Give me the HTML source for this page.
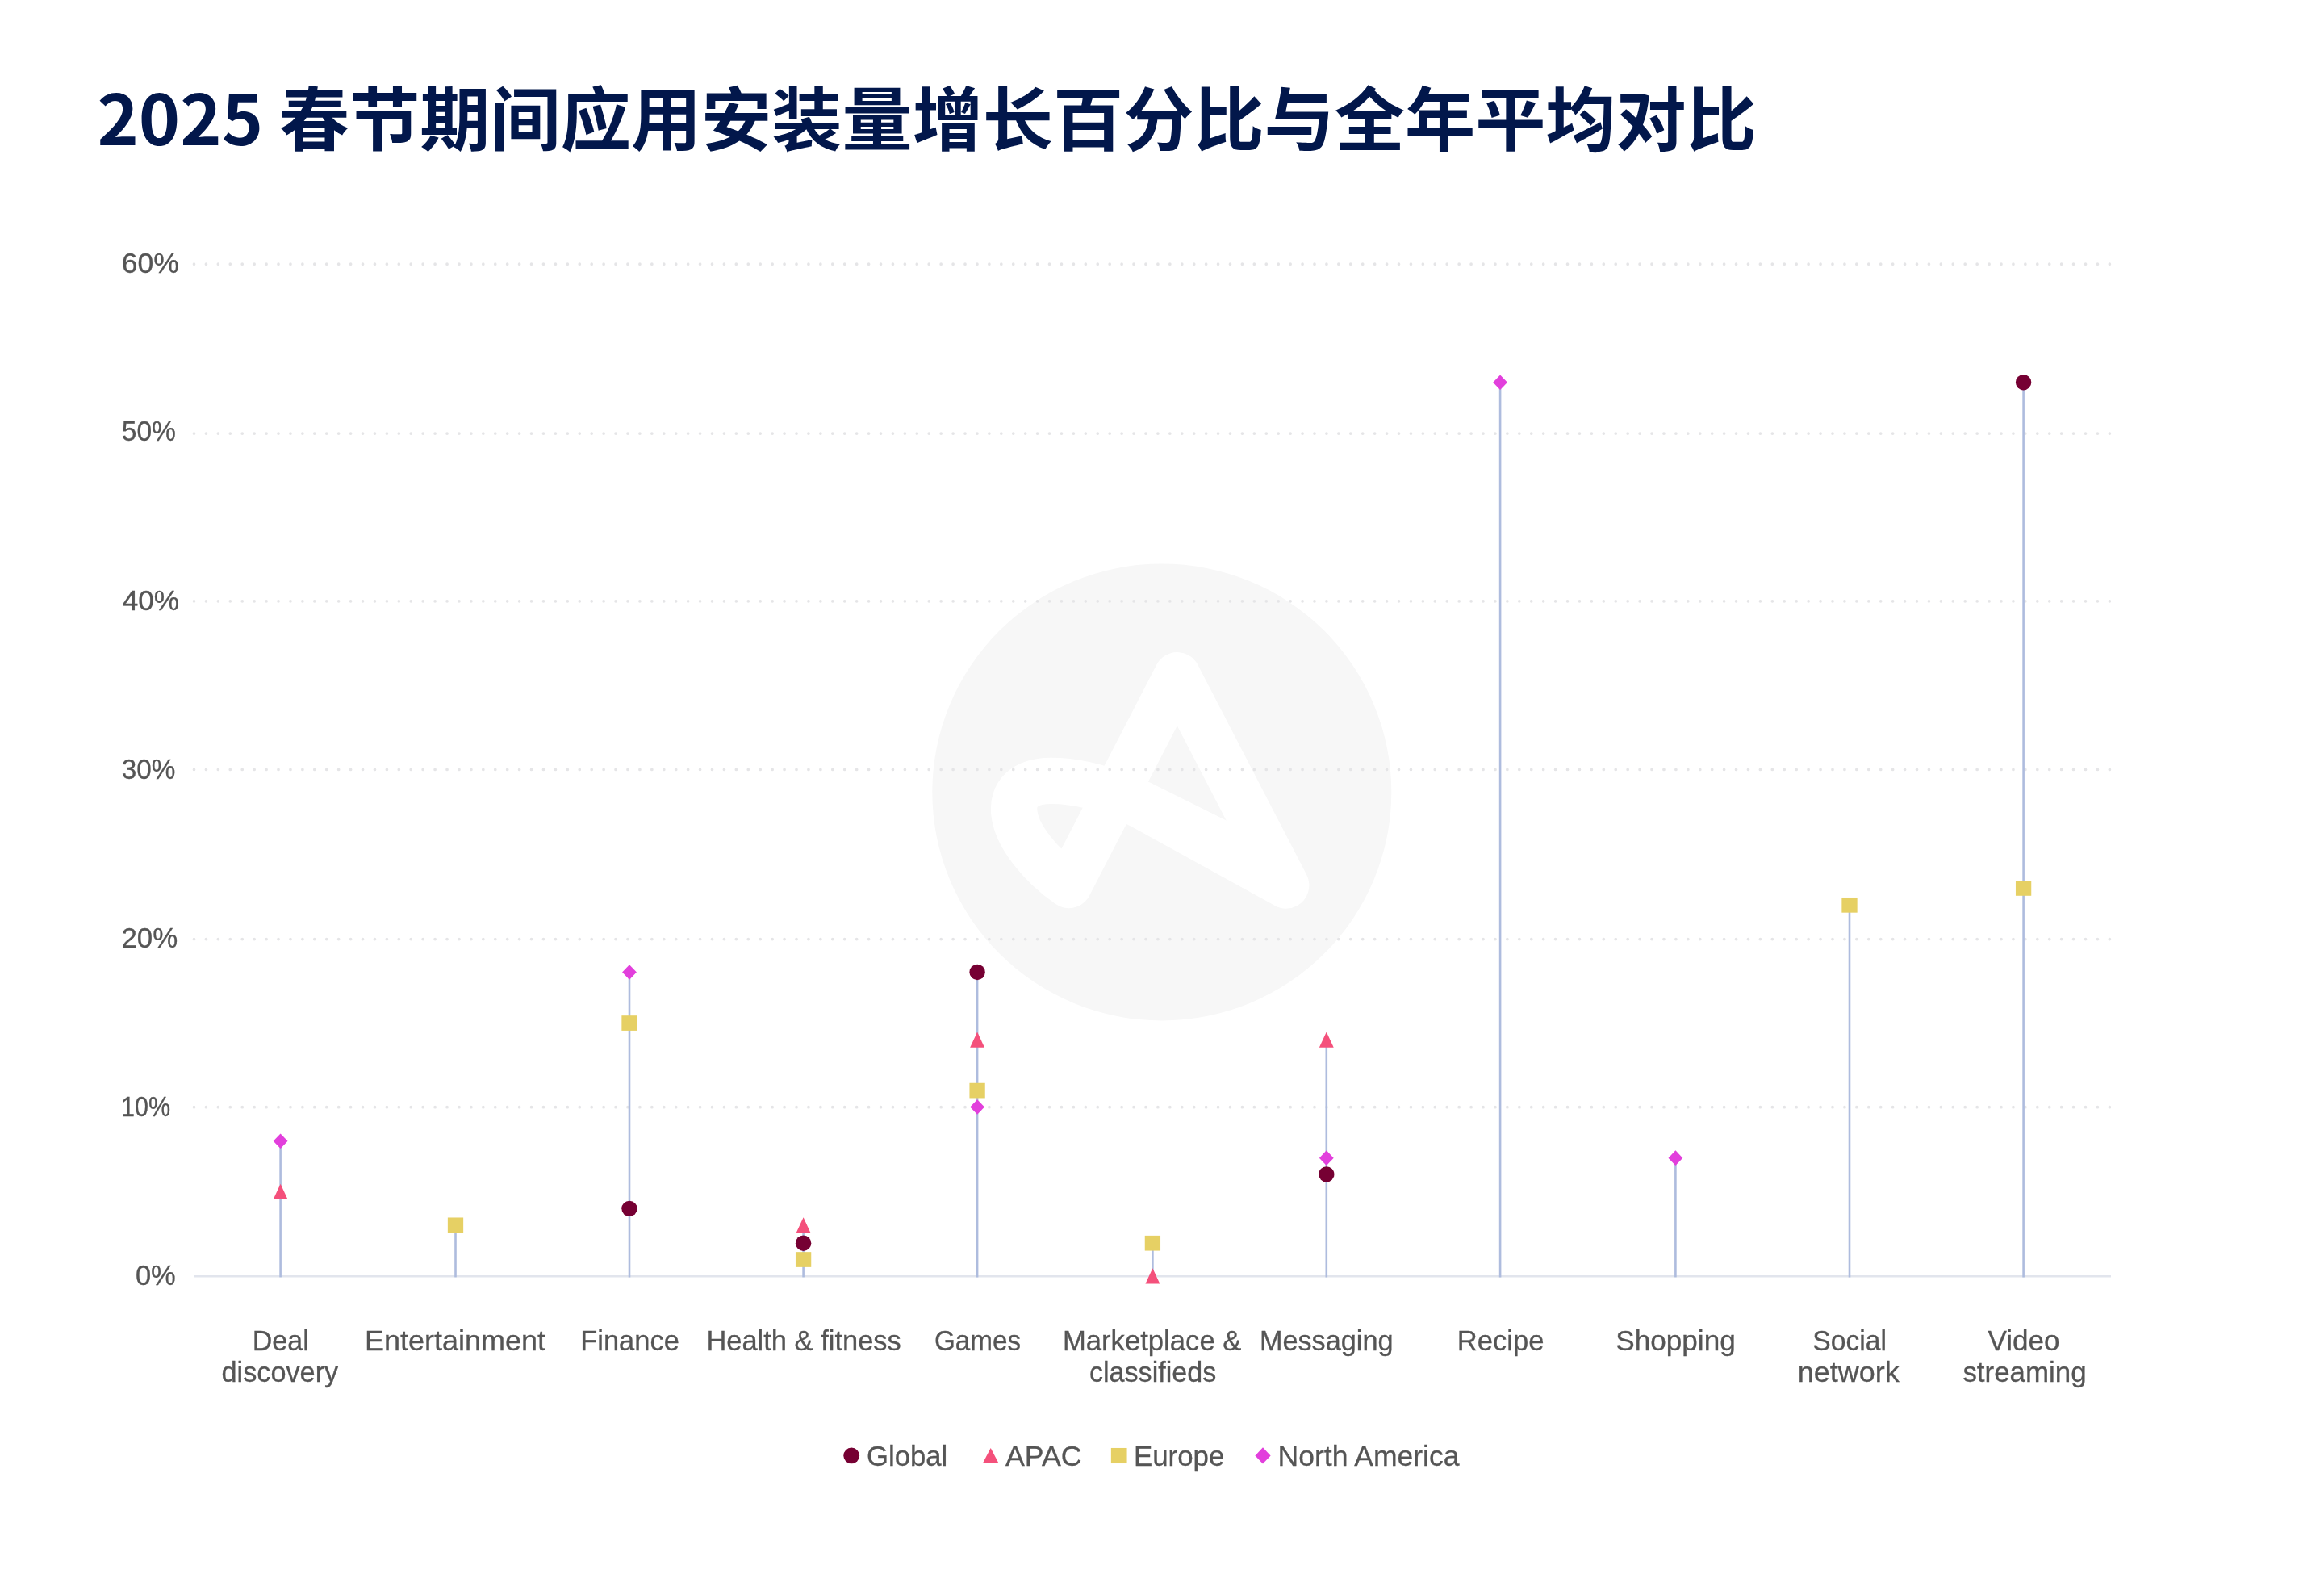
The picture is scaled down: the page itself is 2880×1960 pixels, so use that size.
<!DOCTYPE html>
<html lang="zh-CN">
<head>
<meta charset="utf-8">
<title>2025 春节期间应用安装量增长百分比与全年平均对比</title>
<style>
html,body{margin:0;padding:0;background:#ffffff;}
body{width:2880px;height:1960px;overflow:hidden;position:relative;}
h1{position:absolute;left:120.4px;top:79.15px;margin:0;white-space:nowrap;
   font-family:"Noto Sans CJK SC","Liberation Sans",sans-serif;font-weight:700;font-size:87.2px;line-height:128px;
   color:#02174b;transform-origin:0 0;transform:scale(1,0.987);}
svg{position:absolute;left:0;top:0;will-change:transform;}
svg text{font-family:"Liberation Sans",sans-serif;fill:#555555;stroke:#555555;stroke-width:0.3px;}
</style>
</head>
<body>
<h1>2025 春节期间应用安装量增长百分比与全年平均对比</h1>
<svg width="2880" height="1960" viewBox="0 0 2880 1960">

<g id="watermark">
<ellipse cx="1439.8" cy="981.45" rx="284.5" ry="283" fill="#f7f7f7"/>
<path d="M1458.8 836.8 L1593.7 1096.9 L1423.6 1003 C1383.2 980.8 1342.7 967.4 1302.3 967.4 C1269.9 967.4 1253.7 983.6 1257 1007.9 C1260.2 1036.2 1290.1 1072.6 1324.5 1096.5 Z" fill="none" stroke="#ffffff" stroke-width="57.4" stroke-linejoin="round" stroke-linecap="round"/>
<path d="M1421 967.5 L1523.8 1018.6 L1526 1027.5 L1421 972 Z" fill="#ffffff"/>
</g>
<g id="grid" stroke="#e5e5e7" stroke-width="3.7" stroke-linecap="round" stroke-dasharray="0.01 14.92">
<line x1="240.5" y1="1371.70" x2="2616.0" y2="1371.70"/>
<line x1="240.5" y1="1163.60" x2="2616.0" y2="1163.60"/>
<line x1="240.5" y1="953.40" x2="2616.0" y2="953.40"/>
<line x1="240.5" y1="744.80" x2="2616.0" y2="744.80"/>
<line x1="240.5" y1="537.10" x2="2616.0" y2="537.10"/>
<line x1="240.5" y1="327.20" x2="2616.0" y2="327.20"/>
</g>
<line x1="240.4" y1="1581.20" x2="2616.0" y2="1581.20" stroke="#e2e5ed" stroke-width="2.6"/>
<g id="stems" stroke="#aebcde" stroke-width="2.6">
<line x1="347.60" y1="1582.40" x2="347.60" y2="1413.78"/>
<line x1="564.50" y1="1582.40" x2="564.50" y2="1517.83"/>
<line x1="780.00" y1="1582.40" x2="780.00" y2="1204.48"/>
<line x1="995.60" y1="1582.40" x2="995.60" y2="1517.83"/>
<line x1="1211.10" y1="1582.40" x2="1211.10" y2="1204.48"/>
<line x1="1428.40" y1="1582.40" x2="1428.40" y2="1540.22"/>
<line x1="1643.80" y1="1582.40" x2="1643.80" y2="1288.14"/>
<line x1="1859.10" y1="1582.40" x2="1859.10" y2="473.73"/>
<line x1="2076.40" y1="1582.40" x2="2076.40" y2="1434.67"/>
<line x1="2292.00" y1="1582.40" x2="2292.00" y2="1121.32"/>
<line x1="2507.60" y1="1582.40" x2="2507.60" y2="473.73"/>
</g>
<g id="markers">
<path d="M347.60 1466.85L356.55 1486.05L338.65 1486.05Z" fill="#f4507b"/>
<path d="M347.60 1404.48L356.50 1413.78L347.60 1423.08L338.70 1413.78Z" fill="#e23fdc"/>
<rect x="554.85" y="1508.48" width="19.30" height="18.70" fill="#e6d064"/>
<circle cx="780.00" cy="1497.34" r="9.70" fill="#760033"/>
<rect x="770.35" y="1258.20" width="19.30" height="18.70" fill="#e6d064"/>
<path d="M780.00 1195.18L788.90 1204.48L780.00 1213.78L771.10 1204.48Z" fill="#e23fdc"/>
<circle cx="995.60" cy="1540.22" r="9.70" fill="#760033"/>
<path d="M995.60 1508.23L1004.55 1527.43L986.65 1527.43Z" fill="#f4507b"/>
<rect x="985.95" y="1551.16" width="19.30" height="18.70" fill="#e6d064"/>
<circle cx="1211.10" cy="1204.48" r="9.70" fill="#760033"/>
<path d="M1211.10 1278.54L1220.05 1297.74L1202.15 1297.74Z" fill="#f4507b"/>
<rect x="1201.45" y="1341.76" width="19.30" height="18.70" fill="#e6d064"/>
<path d="M1211.10 1362.20L1220.00 1371.50L1211.10 1380.80L1202.20 1371.50Z" fill="#e23fdc"/>
<path d="M1428.40 1571.30L1437.35 1590.50L1419.45 1590.50Z" fill="#f4507b"/>
<rect x="1418.75" y="1530.87" width="19.30" height="18.70" fill="#e6d064"/>
<circle cx="1643.80" cy="1454.86" r="9.70" fill="#760033"/>
<path d="M1643.80 1278.54L1652.75 1297.74L1634.85 1297.74Z" fill="#f4507b"/>
<path d="M1643.80 1425.37L1652.70 1434.67L1643.80 1443.97L1634.90 1434.67Z" fill="#e23fdc"/>
<path d="M1859.10 464.43L1868.00 473.73L1859.10 483.03L1850.20 473.73Z" fill="#e23fdc"/>
<path d="M2076.40 1425.37L2085.30 1434.67L2076.40 1443.97L2067.50 1434.67Z" fill="#e23fdc"/>
<rect x="2282.35" y="1111.97" width="19.30" height="18.70" fill="#e6d064"/>
<circle cx="2507.60" cy="473.73" r="9.70" fill="#760033"/>
<rect x="2497.95" y="1091.08" width="19.30" height="18.70" fill="#e6d064"/>
</g>
<g id="legend-markers">
<circle cx="1055.20" cy="1803.40" r="9.89" fill="#760033"/>
<path d="M1227.7 1794.0L1237.5 1812.8L1217.9 1812.8Z" fill="#f4507b"/>
<rect x="1376.86" y="1793.96" width="19.69" height="19.07" fill="#e6d064"/>
<path d="M1565.00 1793.36L1574.61 1803.40L1565.00 1813.44L1555.39 1803.40Z" fill="#e23fdc"/>
</g>
<g id="xlabels">
<text x="312.72" y="1672.60" font-size="34.4" textLength="70.00" lengthAdjust="spacingAndGlyphs">Deal</text>
<text x="274.50" y="1712.30" font-size="34.4" textLength="144.69" lengthAdjust="spacingAndGlyphs">discovery</text>
<text x="452.01" y="1672.60" font-size="34.4" textLength="224.03" lengthAdjust="spacingAndGlyphs">Entertainment</text>
<text x="719.20" y="1672.60" font-size="34.4" textLength="122.63" lengthAdjust="spacingAndGlyphs">Finance</text>
<text x="875.40" y="1672.60" font-size="34.4" textLength="241.40" lengthAdjust="spacingAndGlyphs">Health &amp; fitness</text>
<text x="1158.03" y="1672.60" font-size="34.4" textLength="107.02" lengthAdjust="spacingAndGlyphs">Games</text>
<text x="1316.88" y="1672.60" font-size="34.4" textLength="221.55" lengthAdjust="spacingAndGlyphs">Marketplace &amp;</text>
<text x="1350.01" y="1712.30" font-size="34.4" textLength="157.18" lengthAdjust="spacingAndGlyphs">classifieds</text>
<text x="1560.91" y="1672.60" font-size="34.4" textLength="165.61" lengthAdjust="spacingAndGlyphs">Messaging</text>
<text x="1805.79" y="1672.60" font-size="34.4" textLength="107.64" lengthAdjust="spacingAndGlyphs">Recipe</text>
<text x="2002.28" y="1672.60" font-size="34.4" textLength="148.49" lengthAdjust="spacingAndGlyphs">Shopping</text>
<text x="2246.32" y="1672.60" font-size="34.4" textLength="91.68" lengthAdjust="spacingAndGlyphs">Social</text>
<text x="2227.81" y="1712.30" font-size="34.4" textLength="125.95" lengthAdjust="spacingAndGlyphs">network</text>
<text x="2463.40" y="1672.60" font-size="34.4" textLength="89.05" lengthAdjust="spacingAndGlyphs">Video</text>
<text x="2432.40" y="1712.30" font-size="34.4" textLength="153.26" lengthAdjust="spacingAndGlyphs">streaming</text>
</g>
<g id="ylabels">
<text x="150.67" y="337.90" font-size="34.5" textLength="71.23" lengthAdjust="spacingAndGlyphs">60%</text>
<text x="150.73" y="546.40" font-size="34.5" textLength="67.23" lengthAdjust="spacingAndGlyphs">50%</text>
<text x="151.70" y="755.90" font-size="34.5" textLength="70.49" lengthAdjust="spacingAndGlyphs">40%</text>
<text x="150.73" y="964.50" font-size="34.5" textLength="66.72" lengthAdjust="spacingAndGlyphs">30%</text>
<text x="150.49" y="1173.50" font-size="34.5" textLength="69.79" lengthAdjust="spacingAndGlyphs">20%</text>
<text x="149.93" y="1383.40" font-size="34.5" textLength="61.17" lengthAdjust="spacingAndGlyphs">10%</text>
<text x="167.90" y="1592.00" font-size="34.5" textLength="49.88" lengthAdjust="spacingAndGlyphs">0%</text>
</g>
<g id="legend">
<text x="1074.11" y="1815.50" font-size="35.0" textLength="100.15" lengthAdjust="spacingAndGlyphs">Global</text>
<text x="1246.00" y="1815.50" font-size="35.0" textLength="94.60" lengthAdjust="spacingAndGlyphs">APAC</text>
<text x="1404.91" y="1815.50" font-size="35.0" textLength="112.45" lengthAdjust="spacingAndGlyphs">Europe</text>
<text x="1583.59" y="1815.50" font-size="35.0" textLength="224.87" lengthAdjust="spacingAndGlyphs">North America</text>
</g>
</svg>
</body>
</html>
